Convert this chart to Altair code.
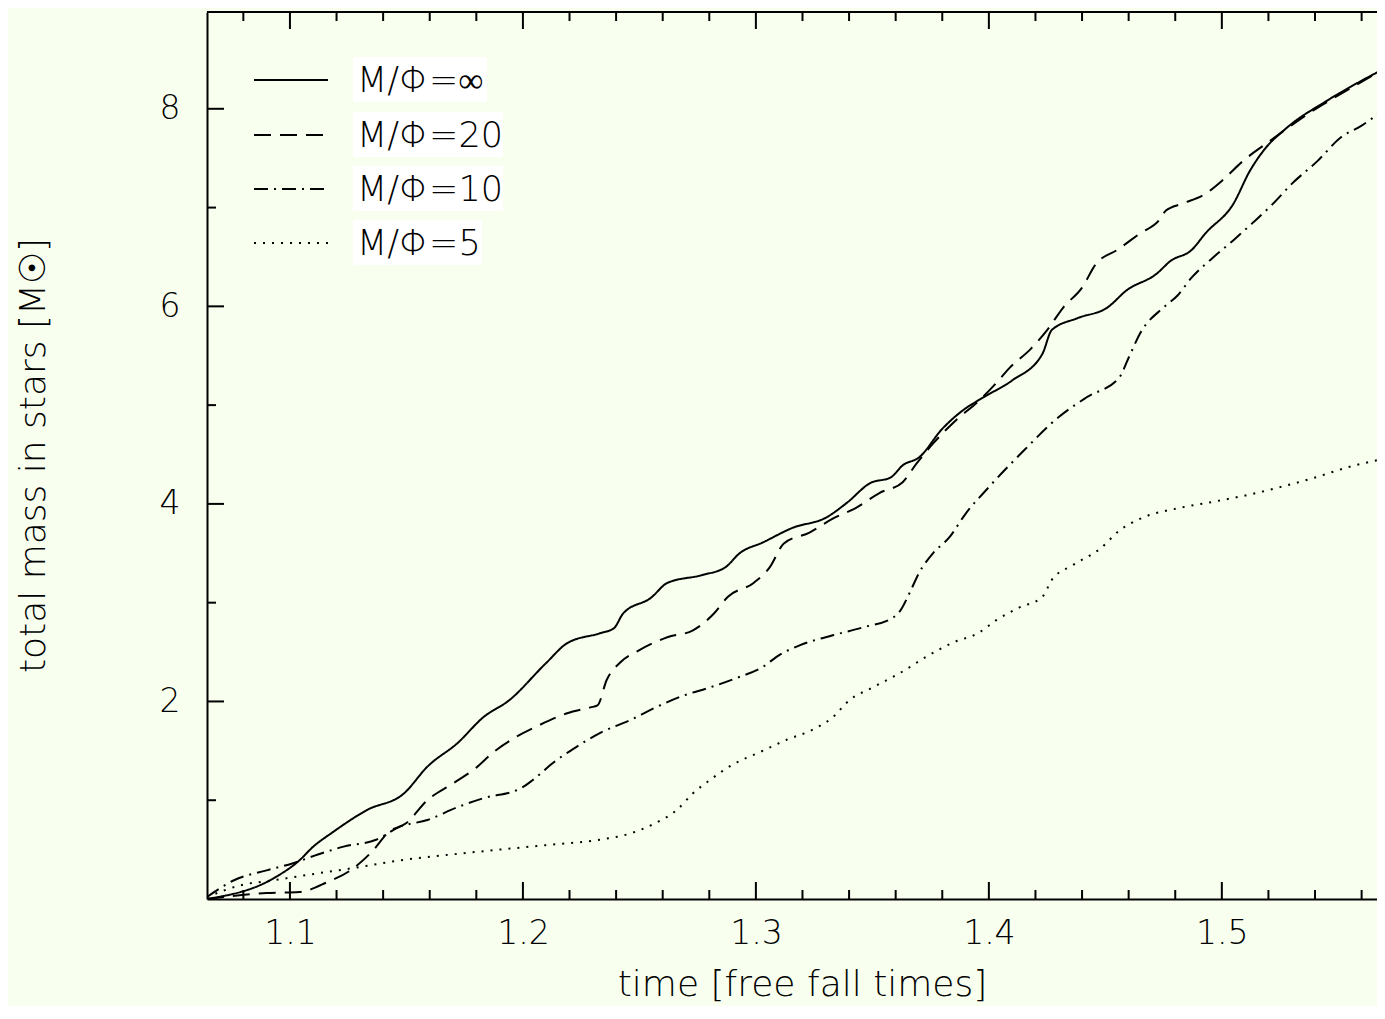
import altair as alt
import pandas as pd

# ---- data ----
series_names = ["M/Φ=∞", "M/Φ=20", "M/Φ=10", "M/Φ=5"]

t_inf = [1.0644, 1.093, 1.104, 1.110, 1.118, 1.133, 1.149, 1.159, 1.172, 1.183, 1.194, 1.210,
         1.219, 1.233, 1.239, 1.243, 1.255, 1.262, 1.277, 1.287, 1.293, 1.303, 1.316, 1.330,
         1.339, 1.349, 1.358, 1.363, 1.370, 1.380, 1.389, 1.397, 1.410, 1.423, 1.427, 1.438,
         1.451, 1.459, 1.472, 1.478, 1.487, 1.493, 1.505, 1.512, 1.518, 1.528, 1.545, 1.570]
m_inf = [0.0, 0.21, 0.39, 0.53, 0.67, 0.90, 1.07, 1.34, 1.58, 1.84, 2.01, 2.39,
         2.59, 2.69, 2.74, 2.89, 3.05, 3.20, 3.28, 3.36, 3.50, 3.61, 3.76, 3.86,
         4.01, 4.21, 4.27, 4.39, 4.47, 4.76, 4.95, 5.07, 5.25, 5.52, 5.76, 5.88,
         5.99, 6.16, 6.33, 6.46, 6.57, 6.74, 7.04, 7.37, 7.58, 7.81, 8.08, 8.41]

t_20 = [1.0644, 1.090, 1.104, 1.116, 1.126, 1.136, 1.142, 1.150, 1.159, 1.170, 1.180, 1.187,
        1.197, 1.207, 1.219, 1.229, 1.232, 1.236, 1.242, 1.250, 1.262, 1.273, 1.282, 1.288,
        1.299, 1.306, 1.312, 1.323, 1.333, 1.343, 1.353, 1.363, 1.369, 1.376, 1.386, 1.396,
        1.403, 1.409, 1.418, 1.425, 1.432, 1.440, 1.446, 1.455, 1.465, 1.473, 1.476, 1.483,
        1.493, 1.500, 1.509, 1.521, 1.539, 1.546, 1.570]
m_20 = [0.0, 0.06, 0.07, 0.17, 0.29, 0.50, 0.67, 0.77, 1.00, 1.17, 1.33, 1.48,
        1.64, 1.76, 1.88, 1.94, 1.96, 2.22, 2.40, 2.52, 2.65, 2.72, 2.89, 3.06,
        3.20, 3.36, 3.60, 3.71, 3.85, 3.96, 4.11, 4.22, 4.41, 4.61, 4.85, 5.05,
        5.22, 5.38, 5.57, 5.76, 5.99, 6.19, 6.43, 6.57, 6.74, 6.87, 6.97, 7.04,
        7.14, 7.27, 7.47, 7.68, 7.98, 8.08, 8.41]

t_10 = [1.0644, 1.076, 1.090, 1.101, 1.112, 1.123, 1.137, 1.147, 1.159, 1.172, 1.183, 1.199,
        1.204, 1.213, 1.223, 1.233, 1.246, 1.257, 1.269, 1.280, 1.292, 1.303, 1.310, 1.319,
        1.333, 1.346, 1.359, 1.362, 1.366, 1.370, 1.376, 1.383, 1.390, 1.400, 1.415, 1.430,
        1.442, 1.456, 1.460, 1.465, 1.475, 1.481, 1.487, 1.496, 1.505, 1.513, 1.522, 1.530,
        1.541, 1.551, 1.560, 1.570]
m_10 = [0.02, 0.19, 0.29, 0.36, 0.45, 0.53, 0.60, 0.73, 0.80, 0.93, 1.02, 1.12,
        1.20, 1.38, 1.54, 1.68, 1.81, 1.94, 2.06, 2.14, 2.24, 2.35, 2.47, 2.57,
        2.67, 2.75, 2.85, 2.92, 3.10, 3.30, 3.50, 3.66, 3.90, 4.17, 4.54, 4.88,
        5.08, 5.28, 5.48, 5.73, 5.99, 6.11, 6.29, 6.49, 6.67, 6.84, 7.04, 7.24,
        7.47, 7.71, 7.83, 8.00]

t_5 = [1.0644, 1.079, 1.093, 1.112, 1.129, 1.147, 1.169, 1.190, 1.212, 1.233, 1.247, 1.257,
       1.266, 1.273, 1.280, 1.290, 1.302, 1.313, 1.324, 1.333, 1.340, 1.350, 1.362, 1.373,
       1.384, 1.396, 1.403, 1.413, 1.423, 1.427, 1.436, 1.448, 1.456, 1.466, 1.482, 1.496,
       1.511, 1.525, 1.539, 1.554, 1.570]
m_5 = [0.02, 0.14, 0.19, 0.26, 0.32, 0.39, 0.45, 0.50, 0.55, 0.60, 0.67, 0.77,
       0.90, 1.07, 1.20, 1.36, 1.49, 1.61, 1.71, 1.84, 2.01, 2.14, 2.29, 2.45,
       2.59, 2.70, 2.82, 2.95, 3.06, 3.23, 3.38, 3.55, 3.73, 3.86, 3.96, 4.02,
       4.09, 4.17, 4.26, 4.37, 4.46]

x_major = [1.1, 1.2, 1.3, 1.4, 1.5]
x_minor = [1.08, 1.12, 1.14, 1.16, 1.18, 1.22, 1.24, 1.26, 1.28, 1.32, 1.34, 1.36, 1.38,
           1.42, 1.44, 1.46, 1.48, 1.52, 1.54, 1.56]
y_major = [2, 4, 6, 8]
y_minor = [1, 3, 5, 7]

x_title = "time [free fall times]"
y_title = "total mass in stars [M☉]"

# ---- styling / layout ----
BG = "#F8FFEF"
FONT = "DejaVu Sans"
FW = 200
W, H = 1170, 887
X_DOMAIN = [1.0644, 1.5666]
Y_DOMAIN = [0, 8.98]
dashes = [[1, 0], [17, 9], [14, 6, 2, 6], [2, 7]]

xs = alt.Scale(domain=X_DOMAIN, nice=False, zero=False)
ys = alt.Scale(domain=Y_DOMAIN, nice=False, zero=False)

AX = alt.Axis(
    values=x_major, format=".1f", title=x_title, orient="bottom",
    domain=True, domainColor="black", domainWidth=2, ticks=False, tickSize=0, grid=False,
    labelFontSize=33, labelPadding=44, labelBaseline="alphabetic", labelColor="black",
    labelFont=FONT, labelFontWeight=FW, titleFont=FONT, titleFontSize=36, titleFontWeight=FW,
    titleColor="black", titleX=595, titleY=96, titleBaseline="alphabetic",
    titleAlign="center")
AY = alt.Axis(
    values=y_major, format="d", title=y_title, orient="left",
    domain=True, domainColor="black", domainWidth=2, ticks=False, tickSize=0, grid=False,
    labelFontSize=33, labelPadding=27, labelBaseline="middle", labelAlign="right",
    labelColor="black", labelFont=FONT, labelFontWeight=FW, titleFont=FONT, titleFontSize=36,
    titleFontWeight=FW, titleColor="black", titleX=-163, titleY=443,
    titleBaseline="alphabetic", titleAlign="center", titleAngle=270)

frames = []
for name, t, m in zip(series_names, [t_inf, t_20, t_10, t_5], [m_inf, m_20, m_10, m_5]):
    frames.append(pd.DataFrame({"t": t, "m": m, "series": name}))
lines_df = pd.concat(frames, ignore_index=True)

lines = alt.Chart(lines_df).mark_line(
    color="black", strokeWidth=2, interpolate="monotone", clip=True
).encode(
    x=alt.X("t:Q", scale=xs, axis=AX),
    y=alt.Y("m:Q", scale=ys, axis=AY),
    strokeDash=alt.StrokeDash("series:N", scale=alt.Scale(domain=series_names, range=dashes),
                              legend=None),
    detail="series:N",
)

layers = [lines]

# inward tick marks (bottom, top, left)
xmaj_df = pd.DataFrame({"t": x_major})
xmin_df = pd.DataFrame({"t": x_minor})
ymaj_df = pd.DataFrame({"m": y_major})
ymin_df = pd.DataFrame({"m": y_minor})

for df, ln in [(xmaj_df, 17), (xmin_df, 9)]:
    layers.append(alt.Chart(df).mark_rule(color="black", strokeWidth=2).encode(
        x=alt.X("t:Q", scale=xs, axis=AX), y=alt.value(H), y2=alt.value(H - ln)))
    layers.append(alt.Chart(df).mark_rule(color="black", strokeWidth=2).encode(
        x=alt.X("t:Q", scale=xs, axis=AX), y=alt.value(0), y2=alt.value(ln)))
for df, ln in [(ymaj_df, 17), (ymin_df, 9)]:
    layers.append(alt.Chart(df).mark_rule(color="black", strokeWidth=2).encode(
        y=alt.Y("m:Q", scale=ys, axis=AY), x=alt.value(0), x2=alt.value(ln)))

# top frame line
layers.append(alt.Chart(pd.DataFrame({"k": [0]})).mark_rule(color="black", strokeWidth=2).encode(
    x=alt.value(0), x2=alt.value(W), y=alt.value(0)))

# legend
leg_line_y = [68, 123, 177, 231]
box_w = [134, 150, 150, 129]
for i, name in enumerate(series_names):
    ly = leg_line_y[i]
    one = pd.DataFrame({"label": [name]})
    layers.append(alt.Chart(one).mark_rect(color="white").encode(
        x=alt.value(146), x2=alt.value(146 + box_w[i]),
        y=alt.value(ly - 23), y2=alt.value(ly + 22)))
    layers.append(alt.Chart(one).mark_rule(color="black", strokeWidth=2,
                                           strokeDash=dashes[i]).encode(
        x=alt.value(47), x2=alt.value(121), y=alt.value(ly)))
    layers.append(alt.Chart(one).mark_text(
        align="left", baseline="alphabetic", font=FONT, fontSize=35, fontWeight=FW,
        color="black").encode(
        x=alt.value(150), y=alt.value(ly + 12), text="label:N"))

chart = alt.layer(*layers).properties(
    width=W, height=H, background=BG,
    padding={"left": 199, "top": 4, "right": 0, "bottom": 107},
    autosize=alt.AutoSizeParams(type="none"),
).configure_view(stroke=None)

chart.save("out.html", embed_options={"renderer": "svg", "actions": False})
